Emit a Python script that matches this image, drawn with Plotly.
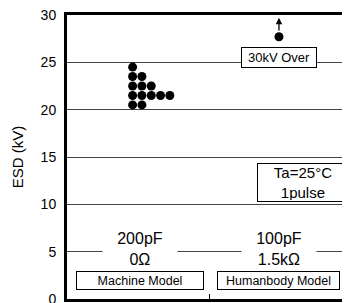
import plotly.graph_objects as go

# ---- data ----
categories = ["Machine Model", "Humanbody Model"]
cat_pos = [0, 1]
conditions = ["200pF<br>0Ω", "100pF<br>1.5kΩ"]
# Machine model: dot plot (value level -> number of samples)
mm_levels = [24.5, 23.5, 22.5, 21.5, 20.5]
mm_counts = [1, 2, 3, 5, 2]
# Humanbody model: all samples exceed 30 kV (plotted below top with arrow)
hb_values = [27.7]
y_ticks = [0, 5, 10, 15, 20, 25, 30]
note_over = "30kV Over"
note_cond = "Ta=25°C<br>1pulse"

FONT = "Liberation Sans, Arial, sans-serif"
col_step = 0.067
col_start = -0.053

mm_x, mm_y = [], []
for lvl, n in zip(mm_levels, mm_counts):
    for i in range(n):
        mm_x.append(cat_pos[0] + col_start + i * col_step)
        mm_y.append(lvl)

fig = go.Figure()
fig.add_trace(go.Scatter(x=mm_x, y=mm_y, mode="markers",
                         marker=dict(size=9, color="black"), showlegend=False))
fig.add_trace(go.Scatter(x=[cat_pos[1]] * len(hb_values), y=hb_values, mode="markers",
                         marker=dict(size=9, color="black"), showlegend=False))

ann = []
# arrow for >30kV
ann.append(dict(x=cat_pos[1], y=29.7, ax=cat_pos[1], ay=28.2, xref="x", yref="y",
                axref="x", ayref="y", text="", showarrow=True, arrowhead=2,
                arrowsize=1, arrowwidth=1.3, arrowcolor="black"))
# condition labels (cover gridline at 5)
for xp, t in zip(cat_pos, conditions):
    ann.append(dict(x=xp + 0.0, y=5.26, xref="x", yref="y", text=t, showarrow=False,
                    font=dict(family=FONT, size=16, color="black"), bgcolor="white",
                    width=72, align="center"))
# model boxes
box_w = [124, 119]
for xp, t, w in zip(cat_pos, categories, box_w):
    ann.append(dict(x=xp, y=1.93, xref="x", yref="y", text=t, showarrow=False,
                    font=dict(family=FONT, size=12.5, color="black"), bgcolor="white",
                    bordercolor="black", borderwidth=1, borderpad=1, width=w, height=15))
ann.append(dict(x=cat_pos[1], y=25.53, xref="x", yref="y", text=note_over, showarrow=False,
                font=dict(family=FONT, size=13, color="black"), bgcolor="white",
                bordercolor="black", borderwidth=1, borderpad=1, width=72, height=17))
ann.append(dict(x=1.175, y=12.28, xref="x", yref="y", text=note_cond, showarrow=False,
                font=dict(family=FONT, size=15, color="black"), bgcolor="white",
                bordercolor="black", borderwidth=1, borderpad=1, width=88, height=35))

fig.update_layout(
    width=350, height=303,
    margin=dict(l=59, r=8, t=7, b=12, autoexpand=False),
    paper_bgcolor="white", plot_bgcolor="white",
    font=dict(family=FONT, size=13, color="black"),
    annotations=ann,
    xaxis=dict(range=[-0.525, 1.511], showgrid=False, zeroline=False, automargin=False,
               showline=True, linecolor="black", linewidth=3, mirror=True,
               tickvals=[0.5], ticktext=[""], ticks="inside", ticklen=5,
               tickcolor="black", tickwidth=1, showticklabels=False),
    yaxis=dict(range=[0, 30], tickvals=y_ticks, showgrid=True, gridcolor="#444",
               gridwidth=1, zeroline=False, showline=True, linecolor="black",
               linewidth=3, mirror=False, ticks="", ticklabelstandoff=5, automargin=False,
               ticklabeloverflow="allow",
               tickfont=dict(family=FONT, size=14),
               title=dict(text="ESD (kV)", font=dict(family=FONT, size=15), standoff=14)),
)
fig.write_html("out.html")
